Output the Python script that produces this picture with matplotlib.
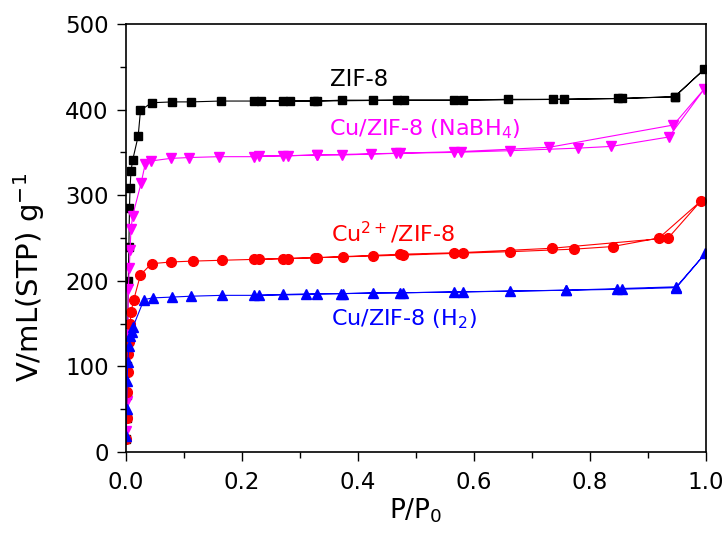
import matplotlib
matplotlib.use("Agg")
import matplotlib.pyplot as plt
from matplotlib.ticker import MultipleLocator, FormatStrFormatter

plt.rcParams['font.family'] = ['DejaVu Sans']

# ZIF-8 (adsorption then desorption)
zif_x = [0.0005, 0.001, 0.0015, 0.002, 0.003, 0.004, 0.005, 0.006, 0.007, 0.0086, 0.0115,
         0.021, 0.025, 0.044, 0.080, 0.112, 0.163, 0.22, 0.27, 0.325, 0.372, 0.426, 0.479,
         0.565, 0.659, 0.737, 0.849, 0.946, 0.997,
         0.946, 0.855, 0.755, 0.581, 0.468, 0.330, 0.283, 0.232]
zif_y = [15, 40, 66, 100, 150, 200, 240, 285, 308, 328, 341,
         369, 399, 408, 409, 409, 410, 410, 410, 410, 411, 411, 411,
         411, 412, 412, 413, 415, 447,
         415, 413, 412, 411, 411, 410, 410, 410]

# Cu/ZIF-8 (NaBH4)
nabh_x = [0.0005, 0.001, 0.002, 0.003, 0.004, 0.0057, 0.007, 0.0086, 0.0115, 0.026, 0.033,
          0.043, 0.077, 0.109, 0.160, 0.22, 0.27, 0.329, 0.372, 0.423, 0.472, 0.565, 0.662,
          0.780, 0.837, 0.936, 0.997,
          0.944, 0.730, 0.578, 0.465, 0.330, 0.280, 0.230]
nabh_y = [24, 59, 91, 137, 190, 215, 236, 260, 276, 314, 336,
          340, 343, 344, 345, 345, 346, 347, 347, 348, 349, 350, 352,
          355, 357, 368, 424,
          382, 356, 351, 349, 347, 346, 346]

# Cu2+/ZIF-8
cu2_x = [0.0005, 0.001, 0.002, 0.003, 0.004, 0.005, 0.007, 0.0086, 0.013, 0.025, 0.044,
         0.078, 0.115, 0.166, 0.22, 0.27, 0.326, 0.375, 0.426, 0.478, 0.565, 0.662, 0.773,
         0.839, 0.919, 0.991,
         0.935, 0.734, 0.581, 0.472, 0.330, 0.280, 0.230]
cu2_y = [15, 40, 70, 93, 114, 128, 149, 163, 177, 207, 220,
         222, 223, 224, 225, 226, 227, 228, 229, 230, 232, 234, 237,
         240, 250, 293,
         250, 238, 233, 231, 227, 226, 225]

# Cu/ZIF-8 (H2)
h2_x = [0.0005, 0.001, 0.002, 0.003, 0.005, 0.007, 0.0098, 0.012, 0.031, 0.046, 0.080,
        0.112, 0.165, 0.22, 0.27, 0.33, 0.375, 0.426, 0.478, 0.565, 0.662, 0.759, 0.847,
        0.949, 0.999,
        0.949, 0.855, 0.759, 0.581, 0.472, 0.370, 0.310, 0.230]
h2_y = [19, 50, 83, 105, 124, 136, 140, 146, 178, 180, 181,
        182, 183, 183, 184, 185, 185, 186, 186, 187, 188, 189, 190,
        192, 232,
        193, 191, 189, 187, 186, 185, 184, 183]

fig = plt.figure(figsize=(7.27, 5.37), dpi=100)
ax = fig.add_axes([0.1733, 0.1583, 0.7977, 0.797])

ax.plot(zif_x, zif_y, color='black', marker='s', ms=6, lw=0.8)
ax.plot(nabh_x, nabh_y, color='#ff00ff', marker='v', ms=7.5, lw=0.8)
ax.plot(cu2_x, cu2_y, color='#ff0000', marker='o', ms=7, lw=0.8)
ax.plot(h2_x, h2_y, color='#0000ff', marker='^', ms=7.5, lw=0.8)

# curve labels
ax.text(0.352, 435, 'ZIF-8', color='black', fontsize=16.5, va='center')
ax.text(0.350, 377, 'Cu/ZIF-8 (NaBH$_4$)', color='#ff00ff', fontsize=16, va='center')
ax.text(0.353, 256, 'Cu$^{2+}$/ZIF-8', color='#ff0000', fontsize=16, va='center')
ax.text(0.353, 155, 'Cu/ZIF-8 (H$_2$)', color='#0000ff', fontsize=16, va='center')

ax.set_xlim(0, 1.0)
ax.set_ylim(0, 500)
ax.xaxis.set_major_locator(MultipleLocator(0.2))
ax.xaxis.set_minor_locator(MultipleLocator(0.1))
ax.yaxis.set_major_locator(MultipleLocator(100))
ax.yaxis.set_minor_locator(MultipleLocator(50))
ax.xaxis.set_major_formatter(FormatStrFormatter('%.1f'))
ax.tick_params(which='major', direction='out', length=6.5, width=1.0, labelsize=16.5, pad=6)
ax.tick_params(axis='x', which='major', pad=7)
ax.tick_params(which='minor', direction='out', length=4, width=1.0)
for s in ax.spines.values():
    s.set_linewidth(1.2)

ax.set_xlabel('P/P$_0$', fontsize=19)
ax.xaxis.set_label_coords(0.5, -0.105)
ax.set_ylabel('V/mL(STP) g$^{-1}$', fontsize=21)
ax.yaxis.set_label_coords(-0.136, 0.408)

fig.savefig('out.png', dpi=100)
